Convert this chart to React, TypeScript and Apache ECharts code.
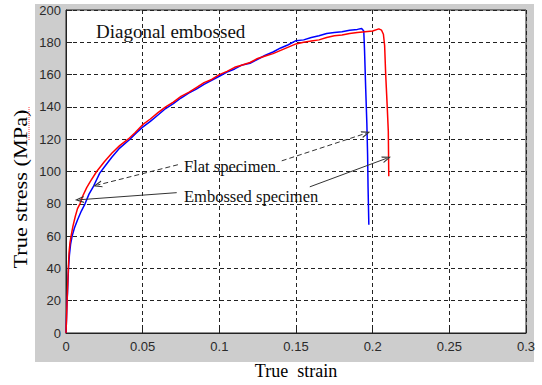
import React, { useEffect, useRef } from "react";
import * as echarts from "echarts";

// True strain / true stress (MPa) — flat specimen (blue)
const flatStrain = [0, 0.0003, 0.0006, 0.001, 0.0013, 0.0017, 0.0022, 0.003, 0.004, 0.0055, 0.0075, 0.01, 0.0124, 0.015, 0.018, 0.022, 0.026, 0.03, 0.035, 0.0417, 0.046, 0.05, 0.055, 0.06, 0.065, 0.07, 0.075, 0.08, 0.085, 0.09, 0.095, 0.1, 0.105, 0.11, 0.115, 0.12, 0.125, 0.13, 0.135, 0.14, 0.145, 0.15, 0.155, 0.16, 0.165, 0.17, 0.175, 0.18, 0.185, 0.19, 0.1928, 0.1942, 0.1947, 0.1955, 0.1962, 0.1967, 0.197, 0.1975];
const flatStress = [0, 8, 18, 25, 33, 41, 48, 55, 60, 65, 70, 75.5, 80, 86, 91, 99, 104, 109, 114.5, 120, 124, 127.5, 131, 135, 139, 142, 145.5, 148.5, 151, 154, 156.5, 159, 161.5, 163.5, 166, 167, 169.5, 172, 174, 176.5, 178.5, 181, 181.5, 183, 184, 185.5, 186, 186.5, 187.5, 188, 188.5, 187, 175, 150, 130, 110, 90, 67];

// Embossed specimen (red)
const embStrain = [0, 0.0004, 0.0008, 0.0012, 0.0016, 0.002, 0.0026, 0.0033, 0.0045, 0.006, 0.0075, 0.0091, 0.011, 0.0135, 0.016, 0.02, 0.025, 0.03, 0.035, 0.0405, 0.045, 0.05, 0.055, 0.06, 0.065, 0.07, 0.075, 0.08, 0.085, 0.09, 0.095, 0.1, 0.105, 0.11, 0.115, 0.12, 0.125, 0.13, 0.135, 0.14, 0.145, 0.15, 0.155, 0.16, 0.165, 0.17, 0.175, 0.18, 0.185, 0.19, 0.195, 0.2, 0.204, 0.2058, 0.207, 0.2078, 0.2085, 0.2095, 0.2102, 0.2105];
const embStress = [0, 10, 22, 32, 42, 50, 56, 60, 66, 72, 77, 80, 85, 90, 94, 100, 106, 111.5, 116, 120, 124, 129, 132.5, 136.5, 140, 143, 146.5, 149, 152, 155, 157, 160, 162, 164.5, 166, 167.5, 170, 171.5, 173, 175, 177, 179, 180, 180.8, 181.5, 183, 184, 184.5, 185.5, 186, 186.5, 187, 188.3, 187.5, 185, 178, 160, 140, 125, 97];

// Annotation arrows [fromStrain, fromStress, toStrain, toStress]
const flatArrows = [
  [0.073, 104.2, 0.0205, 91.6],
  [0.1407, 106.6, 0.1957, 123.7],
];
const embArrows = [
  [0.0722, 86.9, 0.0087, 82.5],
  [0.159, 90.5, 0.2092, 108.2],
];

const title = "Diagonal embossed";
const flatLabel = "Flat specimen";
const embLabel = "Embossed specimen";
const xName = "True  strain";
const yName = "True stress (MPa)";

const ARROW = "path://M5,0 L10,12 L8.3,12 L5,4 L1.7,12 L0,12 Z";

const zip = (xs: number[], ys: number[]) => xs.map((x, i) => [x, ys[i]]);
const toMark = (arr: number[][]) =>
  arr.map((a) => [{ coord: [a[0], a[1]] }, { coord: [a[2], a[3]] }]);

export default function App() {
  const ref = useRef<HTMLDivElement>(null);
  useEffect(() => {
    if (!ref.current) return;
    const chart = echarts.init(ref.current, null, { renderer: "svg" });
    const serif = '"Liberation Serif", "Times New Roman", serif';
    const sans = '"Liberation Sans", Arial, sans-serif';
    chart.setOption({
      animation: false,
      backgroundColor: "#ffffff",
      graphic: {
        elements: [
          {
            type: "rect",
            z: -10,
            silent: true,
            shape: { x: 35, y: 4, width: 499, height: 358 },
            style: { fill: "#cdcdcd" },
          },
          {
            type: "text",
            z: 10,
            x: 96,
            y: 31,
            style: { text: title, font: `19px ${serif}`, fill: "#111", align: "left", verticalAlign: "middle" },
          },
          {
            type: "text",
            z: 10,
            x: 184,
            y: 166.5,
            style: { text: flatLabel, font: `16.5px ${serif}`, fill: "#111", align: "left", verticalAlign: "middle" },
          },
          {
            type: "text",
            z: 10,
            x: 184,
            y: 196,
            style: { text: embLabel, font: `16.5px ${serif}`, fill: "#111", align: "left", verticalAlign: "middle" },
          },
          {
            type: "text",
            z: 10,
            x: 20.5,
            y: 189,
            rotation: Math.PI / 2,
            scaleX: 1.24,
            style: { text: yName, font: `18px ${serif}`, fill: "#000", align: "center", verticalAlign: "middle" },
          },
          {
            type: "line",
            z: 10,
            shape: { x1: 29, y1: 107, x2: 29, y2: 141 },
            style: { stroke: "#ff4040", lineWidth: 1, lineDash: [1, 1] },
          },
        ],
      },
      grid: {
        left: 66,
        top: 10,
        width: 460,
        height: 332,
        show: true,
        backgroundColor: "#ffffff",
        borderColor: "#222",
        borderWidth: 1,
      },
      xAxis: {
        type: "value",
        min: 0,
        max: 0.3,
        interval: 0.05,
        name: xName,
        nameLocation: "middle",
        nameGap: 29,
        nameTextStyle: { fontFamily: serif, fontSize: 18, color: "#000" },
        axisLine: { show: true, onZero: false, lineStyle: { color: "#222", width: 1 } },
        axisTick: { show: true, inside: true, length: 6, lineStyle: { color: "#222" } },
        axisLabel: { color: "#2a2a2a", fontFamily: sans, fontSize: 13, margin: 7 },
        splitLine: { show: true, lineStyle: { color: "#222", type: [4, 3], width: 1 } },
      },
      yAxis: {
        type: "value",
        min: 0,
        max: 200,
        interval: 20,
        axisLine: { show: true, lineStyle: { color: "#222", width: 1 } },
        axisTick: { show: true, inside: true, length: 6, lineStyle: { color: "#222" } },
        axisLabel: { color: "#2a2a2a", fontFamily: sans, fontSize: 13, margin: 5 },
        splitLine: { show: true, lineStyle: { color: "#222", type: [4, 3], width: 1 } },
      },
      series: [
        {
          type: "line",
          name: flatLabel,
          data: zip(flatStrain, flatStress),
          showSymbol: false,
          lineStyle: { color: "#0000ff", width: 1.5 },
          itemStyle: { color: "#0000ff" },
          markLine: {
            silent: true,
            symbol: ["none", ARROW],
            symbolSize: [7, 9],
            label: { show: false },
            lineStyle: { color: "#333", width: 1, type: [5, 3] },
            data: toMark(flatArrows),
          },
        },
        {
          type: "line",
          name: embLabel,
          data: zip(embStrain, embStress),
          showSymbol: false,
          lineStyle: { color: "#ff0000", width: 1.5 },
          itemStyle: { color: "#ff0000" },
          markLine: {
            silent: true,
            symbol: ["none", ARROW],
            symbolSize: [7, 9],
            label: { show: false },
            lineStyle: { color: "#333", width: 1, type: "solid" },
            data: toMark(embArrows),
          },
        },
      ],
    });
    return () => chart.dispose();
  }, []);
  return (
    <div
      ref={ref}
      style={{ position: "fixed", left: 0, top: 0, width: 542, height: 385 }}
    />
  );
}
